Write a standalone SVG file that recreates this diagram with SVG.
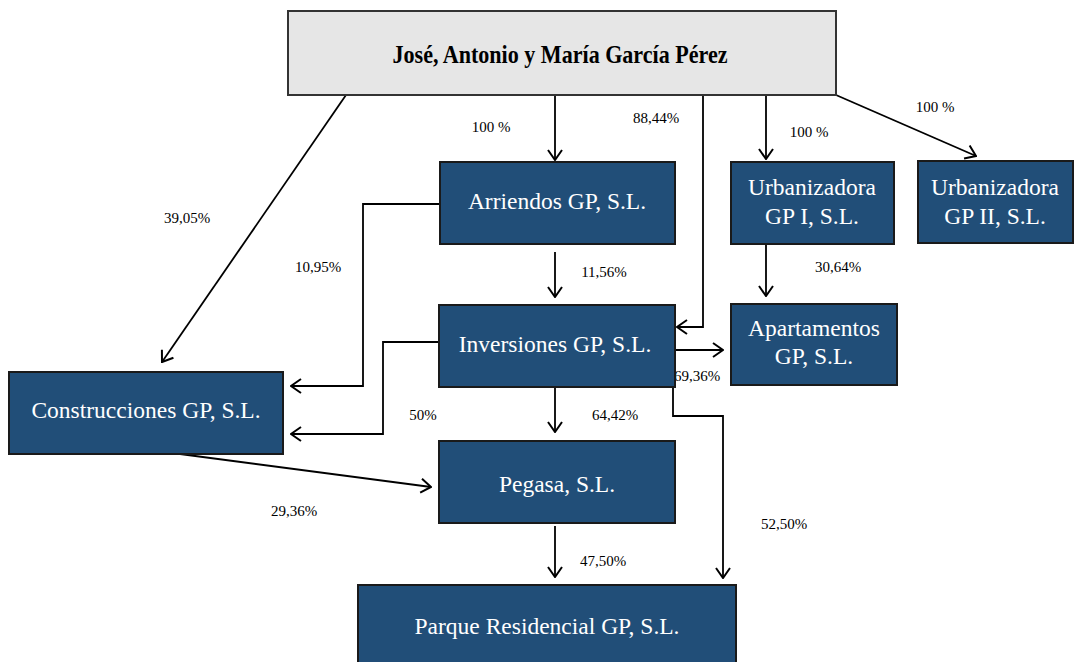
<svg xmlns="http://www.w3.org/2000/svg" width="1075" height="662" viewBox="0 0 1075 662">
<defs>
<marker id="arr" markerUnits="userSpaceOnUse" viewBox="0 0 12 16" markerWidth="12" markerHeight="16" refX="11" refY="8" orient="auto">
<path d="M1,1 L11,8 L1,15" fill="none" stroke="#000" stroke-width="2"/>
</marker>
<style>
.node{fill:#214E78;stroke:#1a1a1a;stroke-width:2}
.nt{font-family:"Liberation Serif","Times New Roman",serif;font-size:23.5px;fill:#fff;text-anchor:middle}
.lbl{font-family:"Liberation Serif","Times New Roman",serif;font-size:15px;fill:#000;text-anchor:middle}
.c{fill:none;stroke:#000;stroke-width:1.8}
.ca{fill:none;stroke:#000;stroke-width:1.8;marker-end:url(#arr)}
</style>
</defs>
<rect width="1075" height="662" fill="#fff"/>
<g id="connectors">
<path class="ca" d="M555,95 V160"/>
<path class="ca" d="M703,95 V327 H677"/>
<path class="ca" d="M766,95 V159"/>
<path class="ca" d="M836,95 L976,156"/>
<path class="ca" d="M346,95 L162,362"/>
<path class="ca" d="M555,252 V297"/>
<path class="ca" d="M440,204 H363 V386 H291"/>
<path class="ca" d="M440,342 H383 V434 H291"/>
<path class="ca" d="M555,387 V432"/>
<path class="ca" d="M675,350 H723"/>
<path class="ca" d="M673,373 V416 H723 V578"/>
<path d="M673,373 V388" stroke="#000" stroke-width="3.5" fill="none"/>
<path class="ca" d="M766,244 V296"/>
<path class="ca" d="M180,454 L431,487"/>
<path class="ca" d="M555,526 V577"/>
<text class="lbl" x="491" y="132">100 %</text>
<text class="lbl" x="656" y="123">88,44%</text>
<text class="lbl" x="604" y="277">11,56%</text>
<text class="lbl" x="809" y="137">100 %</text>
<text class="lbl" x="935" y="112">100 %</text>
<text class="lbl" x="187" y="223">39,05%</text>
<text class="lbl" x="318" y="272">10,95%</text>
<text class="lbl" x="423" y="420">50%</text>
<text class="lbl" x="615" y="420">64,42%</text>
<text class="lbl" x="697" y="381">69,36%</text>
<text class="lbl" x="784" y="529">52,50%</text>
<text class="lbl" x="294" y="516">29,36%</text>
<text class="lbl" x="603" y="566">47,50%</text>
<text class="lbl" x="838" y="272">30,64%</text>
</g>
<g id="owners">
<rect x="288" y="11" width="548" height="84" fill="#E6E6E6" stroke="#333" stroke-width="2"/>
<text x="560" y="63" font-family="Liberation Serif, Times New Roman, serif" font-size="25" font-weight="bold" text-anchor="middle" fill="#000" textLength="335" lengthAdjust="spacingAndGlyphs">José, Antonio y María García Pérez</text>
</g>
<g id="arriendos">
<rect class="node" x="440" y="162" width="235" height="82"/>
<text class="nt" x="557" y="209">Arriendos GP, S.L.</text>
</g>
<g id="urbanizadora1">
<rect class="node" x="731" y="162" width="163" height="82"/>
<text class="nt" x="812" y="195">Urbanizadora</text>
<text class="nt" x="812" y="224">GP I, S.L.</text>
</g>
<g id="urbanizadora2">
<rect class="node" x="918" y="161" width="155" height="82"/>
<text class="nt" x="995" y="195">Urbanizadora</text>
<text class="nt" x="995" y="224">GP II, S.L.</text>
</g>
<g id="inversiones">
<rect class="node" x="439" y="305" width="236" height="82"/>
<text class="nt" x="555" y="352">Inversiones GP, S.L.</text>
</g>
<g id="apartamentos">
<rect class="node" x="731" y="304" width="166" height="81"/>
<text class="nt" x="814" y="336">Apartamentos</text>
<text class="nt" x="814" y="364">GP, S.L.</text>
</g>
<g id="construcciones">
<rect class="node" x="9" y="372" width="274" height="82"/>
<text class="nt" x="146" y="418">Construcciones GP, S.L.</text>
</g>
<g id="pegasa">
<rect class="node" x="439" y="441" width="236" height="82"/>
<text class="nt" x="557" y="492">Pegasa, S.L.</text>
</g>
<g id="parque">
<rect class="node" x="358" y="585" width="378" height="90"/>
<text class="nt" x="547" y="634">Parque Residencial GP, S.L.</text>
</g>
</svg>
